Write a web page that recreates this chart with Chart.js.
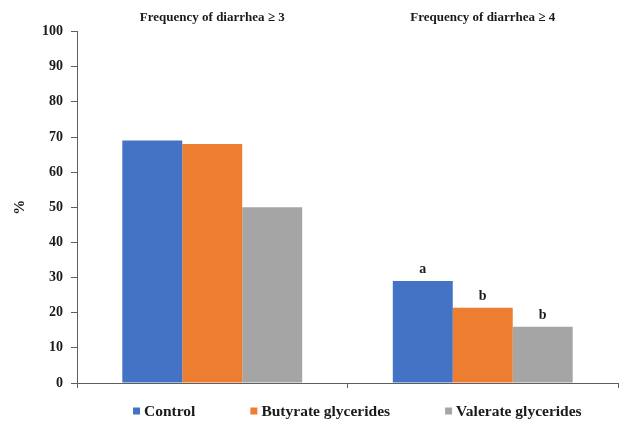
<!DOCTYPE html>
<html>
<head>
<meta charset="utf-8">
<title>Frequency of diarrhea</title>
<script src="https://cdn.jsdelivr.net/npm/chart.js@4.4.1/dist/chart.umd.min.js"></script>
<style>
  html, body { margin: 0; padding: 0; background: #ffffff; }
</style>
</head>
<body>
<canvas id="chart" width="621" height="422"></canvas>
<script>
// data
const categories = ['Frequency of diarrhea \u2265 3', 'Frequency of diarrhea \u2265 4'];
const seriesNames = ['Control', 'Butyrate glycerides', 'Valerate glycerides'];
const control = [69, 29];
const butyrate = [68, 21.4];
const valerate = [50, 16];
// significance letters, one list per series (one entry per category)
const letters = [['', 'a'], ['', 'b'], ['', 'b']];
const yMin = 0;
const yMax = 100;
const yStep = 10;

const colors = ['#4472C4', '#ED7D31', '#A5A5A5'];
const serif = '"Liberation Serif", "Times New Roman", serif';
const ink = '#1a1a1a';
const axisColor = '#5f5f5f';

Chart.defaults.font.family = serif;
Chart.defaults.font.weight = 'bold';
Chart.defaults.color = ink;

const letterPlugin = {
    id: 'letters',
    afterDatasetsDraw(chart) {
        const ctx = chart.ctx;
        ctx.save();
        ctx.font = 'bold 14px ' + serif;
        ctx.fillStyle = ink;
        ctx.textAlign = 'center';
        ctx.textBaseline = 'alphabetic';
        chart.data.datasets.forEach((ds, i) => {
            chart.getDatasetMeta(i).data.forEach((bar, j) => {
                const t = letters[i][j];
                if (t) ctx.fillText(t, bar.x, bar.y - 8);
            });
        });
        ctx.restore();
    }
};

// legend drawn by hand so the item spacing can follow the original
const legendPlugin = {
    id: 'bottomLegend',
    afterDraw(chart) {
        const ctx = chart.ctx;
        const y = 411;
        let x = 133;
        ctx.save();
        ctx.font = 'bold 15.5px ' + serif;
        ctx.textBaseline = 'middle';
        chart.data.datasets.forEach(ds => {
            ctx.fillStyle = ds.backgroundColor;
            ctx.fillRect(x, y - 3.5, 7, 7);
            ctx.fillStyle = ink;
            ctx.fillText(ds.label, x + 11, y + 1);
            x += 11 + ctx.measureText(ds.label).width + 55;
        });
        ctx.restore();
    }
};

const seriesValues = [control, butyrate, valerate];

new Chart(document.getElementById('chart'), {
    type: 'bar',
    data: {
        labels: categories,
        datasets: seriesNames.map((name, i) => ({
            label: name,
            data: seriesValues[i],
            backgroundColor: colors[i],
            borderWidth: 0,
            xAxisID: 'x',
            yAxisID: 'y',
            categoryPercentage: 0.665,
            barPercentage: 1.0
        }))
    },
    options: {
        responsive: false,
        animation: false,
        layout: { padding: { top: 4, right: 3, bottom: 34, left: 8 } },
        plugins: {
            legend: { display: false },
            tooltip: { enabled: false }
        },
        scales: {
            x: {
                type: 'category',
                position: 'bottom',
                offset: true,
                ticks: { display: false },
                grid: {
                    offset: true,
                    drawOnChartArea: false,
                    drawTicks: true,
                    tickLength: 5,
                    color: axisColor
                },
                border: { color: axisColor, width: 1 }
            },
            x2: {
                type: 'category',
                position: 'top',
                labels: categories,
                offset: true,
                grid: { display: false, drawTicks: false },
                border: { display: false },
                ticks: { font: { size: 13, weight: 'bold' }, color: ink, padding: 6 }
            },
            y: {
                min: yMin,
                max: yMax,
                ticks: {
                    stepSize: yStep,
                    padding: 8,
                    font: { size: 14, weight: 'bold' },
                    color: ink
                },
                grid: {
                    drawOnChartArea: false,
                    drawTicks: true,
                    tickLength: 6,
                    color: axisColor
                },
                border: { color: axisColor, width: 1 },
                title: {
                    display: true,
                    text: '%',
                    font: { size: 15, weight: 'bold' },
                    color: ink,
                    padding: { top: 3, bottom: 5 }
                }
            }
        }
    },
    plugins: [letterPlugin, legendPlugin]
});
</script>
</body>
</html>
